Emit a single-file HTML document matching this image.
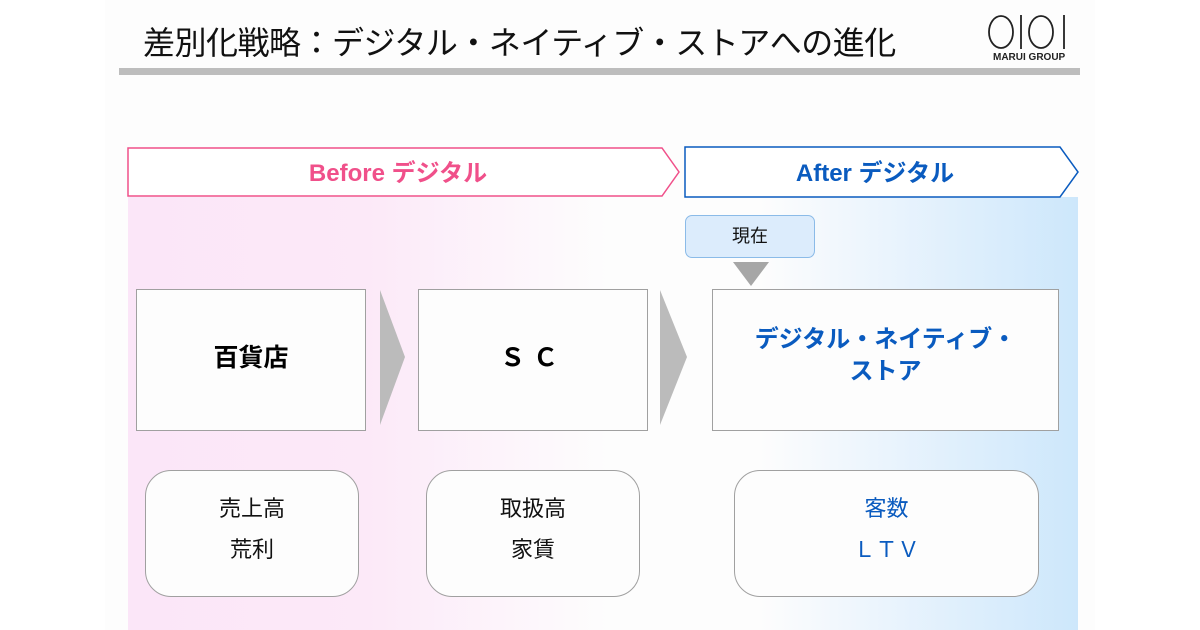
<!DOCTYPE html>
<html><head><meta charset="utf-8"><style>
body{margin:0;width:1200px;height:630px;background:#fff;position:relative;overflow:hidden;font-family:"Liberation Sans","Noto Sans CJK JP",sans-serif}
.a{position:absolute}
.box{position:absolute;background:#fdfdfd;border:1.5px solid #a0a0a0;box-sizing:border-box;display:flex;align-items:center;justify-content:center;text-align:center}
.rb{position:absolute;background:#fdfdfd;border:1.5px solid #a0a0a0;border-radius:26px;box-sizing:border-box;text-align:center;font-size:22px;line-height:41px;padding-top:17px;color:#111}
</style></head><body>
<div class="a" style="left:105px;top:0;width:990px;height:630px;background:#fdfdfd"></div>
<div class="a" style="left:128px;top:197px;width:480px;height:433px;background:linear-gradient(90deg,#fbe6f8 0%,#fce9f8 50%,rgba(253,240,250,0.6) 80%,rgba(253,253,253,0) 100%)"></div>
<div class="a" style="left:760px;top:197px;width:318px;height:433px;background:linear-gradient(90deg,rgba(253,253,253,0) 0%,#eaf4fd 40%,#cde7fb 100%)"></div>
<div class="a" style="left:143px;top:18px;font-size:32px;color:#111;white-space:nowrap;letter-spacing:-0.5px">差別化戦略：デジタル・ネイティブ・ストアへの進化</div>
<div class="a" style="left:119px;top:68px;width:961px;height:7px;background:#bdbdbd"></div>
<svg class="a" style="left:985px;top:10px" width="100" height="45">
<ellipse cx="16" cy="22" rx="12" ry="16" fill="none" stroke="#222" stroke-width="1.8"/>
<line x1="36" y1="5" x2="36" y2="39" stroke="#222" stroke-width="1.8"/>
<ellipse cx="56" cy="22" rx="12" ry="16" fill="none" stroke="#222" stroke-width="1.8"/>
<line x1="79" y1="5" x2="79" y2="39" stroke="#222" stroke-width="1.8"/>
</svg>
<div class="a" style="left:993px;top:52px;font-size:10px;color:#222;font-weight:bold">MARUI GROUP</div>
<svg class="a" style="left:0;top:0" width="1200" height="630">
<polygon points="128,148 662,148 679,172 662,196 128,196" fill="#fff" stroke="#f0508a" stroke-width="1.5"/>
<polygon points="685,147 1060,147 1078,172 1060,197 685,197" fill="#fff" stroke="#0a5bbf" stroke-width="1.5"/>
<polygon points="733,262 769,262 751,286" fill="#a6a6a6"/>
<polygon points="380,290 405,357 380,425" fill="#bbb"/>
<polygon points="660,290 687,357 660,425" fill="#bbb"/>
</svg>
<div class="a" style="left:128px;top:153px;width:540px;text-align:center;font-size:24px;font-weight:bold;color:#f0508a">Before デジタル</div>
<div class="a" style="left:685px;top:153px;width:380px;text-align:center;font-size:24px;font-weight:bold;color:#0a5bbf">After デジタル</div>
<div class="a" style="left:685px;top:215px;width:130px;height:43px;box-sizing:border-box;background:#dcecfc;border:1px solid #8bbbe8;border-radius:7px;text-align:center;line-height:41px;font-size:18px;color:#111">現在</div>
<div class="box" style="left:136px;top:289px;width:230px;height:142px;font-size:25px;font-weight:bold;padding-bottom:8px">百貨店</div>
<div class="box" style="left:418px;top:289px;width:230px;height:142px;font-size:25px;font-weight:bold;letter-spacing:8px;padding-bottom:8px">ＳＣ</div>
<div class="box" style="left:712px;top:289px;width:347px;height:142px;font-size:24px;font-weight:bold;color:#0a5bbf;line-height:32px;padding-bottom:8px">デジタル・ネイティブ・<br>ストア</div>
<div class="rb" style="left:145px;top:470px;width:214px;height:127px">売上高<br>荒利</div>
<div class="rb" style="left:426px;top:470px;width:214px;height:127px">取扱高<br>家賃</div>
<div class="rb" style="left:734px;top:470px;width:305px;height:127px;color:#0a5bbf">客数<br>ＬＴＶ</div>
</body></html>
